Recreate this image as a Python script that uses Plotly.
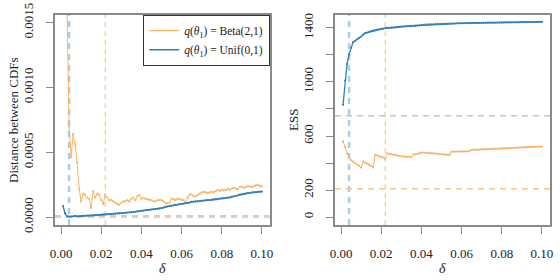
import plotly.graph_objects as go

# ---------------- data ----------------
delta = [round(0.001 * k, 3) for k in range(1, 101)]

# Distance between CDFs, q = Beta(2,1)  (x1e-5)
dist_beta_e5 = [800, 400, 160, 70, 46, 64, 56, 42, 22, 12,
                18, 17, 15, 14, 7, 20, 15, 18, 17, 13,
                10, 17, 15, 13, 13, 12, 11, 10, 9.5, 11,
                12, 12, 13, 12, 14, 15, 13, 16, 17, 14,
                15, 14, 14, 13, 13, 12, 12, 13, 13, 13,
                12, 10.5, 11, 11, 14, 14, 13, 14, 14, 13,
                13, 11, 15, 17, 17.5, 16, 16, 17, 18, 19,
                19.5, 19, 18.5, 19, 19.5, 19, 20, 21, 20, 21,
                20.5, 21, 21.5, 21, 22, 22.5, 22, 21.5, 23, 23.5,
                22.5, 23, 24, 23.5, 23, 24, 24.5, 24.7, 24, 23.5]
# Distance between CDFs, q = Unif(0,1)  (x1e-5)
dist_unif_e5 = [8.5, 2.8, 0.5, 0.2, 0.3, 0.5, 0.8, 0.5, 0.6, 0.7,
                0.8, 0.9, 1.0, 1.0, 1.1, 1.2, 1.3, 1.4, 1.5, 1.7,
                1.8, 2.0, 2.1, 2.2, 2.3, 2.4, 2.6, 2.7, 2.8, 3.0,
                3.1, 3.2, 3.4, 3.5, 3.7, 3.8, 4.0, 4.3, 4.6, 4.8,
                5.0, 5.2, 5.4, 5.5, 5.7, 5.9, 6.1, 6.3, 6.5, 6.8,
                7.2, 7.8, 8.2, 8.5, 8.8, 9.0, 9.3, 9.6, 9.8, 10.0,
                10.3, 10.6, 10.9, 11.2, 11.6, 11.9, 12.0, 12.1, 12.3, 12.5,
                12.7, 12.9, 13.0, 13.1, 13.2, 13.4, 13.6, 13.8, 14.0, 14.2,
                14.4, 14.6, 14.8, 15.0, 15.5, 16.0, 16.4, 16.8, 17.2, 17.6,
                17.9, 18.2, 18.5, 18.7, 18.9, 19.0, 19.2, 19.4, 19.6, 19.6]
dist_beta = [v * 1e-5 for v in dist_beta_e5]
dist_unif = [v * 1e-5 for v in dist_unif_e5]

ess_beta = [560, 520, 470, 440, 420, 410, 400, 390, 380, 366,
            410, 402, 396, 388, 378, 366, 462, 455, 450, 447,
            440, 432, 472, 468, 465, 462, 460, 456, 452, 450,
            448, 447, 446, 448, 444, 462, 466, 468, 472, 476,
            478, 476, 475, 474, 473, 472, 470, 468, 466, 465,
            464, 462, 461, 460, 484, 484, 485, 484, 485, 486,
            485, 486, 486, 490, 497, 498, 499, 498, 500, 501,
            501, 502, 503, 503, 504, 505, 506, 506, 507, 508,
            508, 509, 510, 511, 511, 512, 513, 514, 514, 515,
            516, 517, 517, 518, 519, 520, 520, 521, 522, 522]
ess_unif = [831, 1011, 1133, 1205, 1255, 1295, 1305, 1315, 1325, 1335,
            1350, 1362, 1366, 1372, 1376, 1380, 1384, 1387, 1390, 1393,
            1395, 1398, 1400, 1401, 1402, 1403, 1404, 1406, 1408, 1410,
            1411, 1412, 1413, 1414, 1415, 1416, 1417, 1419, 1420, 1422,
            1423, 1424, 1425, 1426, 1427, 1427, 1428, 1429, 1429, 1430,
            1430, 1431, 1431, 1432, 1432, 1433, 1433, 1434, 1434, 1435,
            1435, 1435, 1436, 1436, 1436, 1437, 1437, 1437, 1438, 1438,
            1438, 1438, 1439, 1439, 1439, 1439, 1440, 1440, 1440, 1440,
            1441, 1441, 1441, 1441, 1442, 1442, 1442, 1442, 1443, 1443,
            1443, 1443, 1444, 1444, 1444, 1444, 1445, 1445, 1445, 1445]

delta_unif_opt = 0.004
delta_beta_opt = 0.022
dist_hline_unif = 0.0
dist_hline_beta = 0.00001
ess_hline_unif = 750
ess_hline_beta = 210

x_ticks = [0.00, 0.02, 0.04, 0.06, 0.08, 0.10]
x_tick_text = ["0.00", "0.02", "0.04", "0.06", "0.08", "0.10"]
dist_ticks = [0.0, 0.0005, 0.0010, 0.0015]
dist_tick_text = ["0.0000", "0.0005", "0.0010", "0.0015"]
ess_ticks = [0, 200, 400, 600, 800, 1000, 1200, 1400]
ess_tick_text = ["0", "200", "", "600", "", "1000", "", "1400"]

legend_beta = "<i>q</i>(<i>θ</i><sub>1</sub>) = Beta(2,1)"
legend_unif = "<i>q</i>(<i>θ</i><sub>1</sub>) = Unif(0,1)"

# ---------------- style ----------------
ORANGE = "#fdb366"
BLUE = "#2f7fbc"
LBLUE = "#a9cfe5"
LORANGE = "#fdc38a"
FRAME = "#8a8a8a"
FONT = "Liberation Serif, DejaVu Serif, serif"
TXT = "#222222"

fig = go.Figure()

def add_series(x, y, color, xa, ya, width):
    fig.add_trace(go.Scatter(x=x, y=y, mode="lines+markers",
                             line=dict(color=color, width=width),
                             marker=dict(color=color, size=2.2),
                             xaxis=xa, yaxis=ya, showlegend=False,
                             cliponaxis=True))

add_series(delta, dist_beta, ORANGE, "x", "y", 1)
add_series(delta, dist_unif, BLUE, "x", "y", 1.3)
add_series(delta, ess_beta, ORANGE, "x2", "y2", 1)
add_series(delta, ess_unif, BLUE, "x2", "y2", 1.3)

# legend-only entries
fig.add_trace(go.Scatter(x=[None], y=[None], mode="lines", name=legend_beta,
                         line=dict(color=ORANGE, width=1.2)))
fig.add_trace(go.Scatter(x=[None], y=[None], mode="lines", name=legend_unif,
                         line=dict(color=BLUE, width=1.4)))

# reference lines
for xr, yr in (("x", "y"), ("x2", "y2")):
    fig.add_shape(type="line", xref=xr, yref=yr + " domain", x0=delta_unif_opt, x1=delta_unif_opt,
                  y0=0, y1=1, line=dict(color=LBLUE, width=2.5, dash="6px,5px"), layer="below")
    fig.add_shape(type="line", xref=xr, yref=yr + " domain", x0=delta_beta_opt, x1=delta_beta_opt,
                  y0=0, y1=1, line=dict(color=LORANGE, width=1.2, dash="5px,4px"), layer="below")

fig.add_shape(type="line", xref="x domain", yref="y", x0=0, x1=1, y0=dist_hline_unif, y1=dist_hline_unif,
              line=dict(color=LBLUE, width=1.5, dash="6px,5px"), layer="below")
fig.add_shape(type="line", xref="x domain", yref="y", x0=0, x1=1, y0=dist_hline_beta, y1=dist_hline_beta,
              line=dict(color=LORANGE, width=1.5, dash="6px,5px"), layer="below")
fig.add_shape(type="line", xref="x2 domain", yref="y2", x0=0, x1=1, y0=ess_hline_unif, y1=ess_hline_unif,
              line=dict(color=LBLUE, width=1.5, dash="6px,5px"), layer="below")
fig.add_shape(type="line", xref="x2 domain", yref="y2", x0=0, x1=1, y0=ess_hline_beta, y1=ess_hline_beta,
              line=dict(color=LORANGE, width=1.5, dash="6px,5px"), layer="below")

W, H = 560, 280
ydom = [(H - 225) / H, (H - 15) / H]

axis_common = dict(showline=True, mirror=True, linecolor=FRAME, linewidth=2,
                   ticks="outside", ticklen=7, tickwidth=1.2, tickcolor=FRAME,
                   showgrid=False, zeroline=False, automargin=False,
                   tickfont=dict(family=FONT, size=13, color=TXT))

fig.update_layout(
    width=W, height=H,
    margin=dict(l=0, r=0, t=0, b=0),
    paper_bgcolor="white", plot_bgcolor="white",
    font=dict(family=FONT, size=13, color=TXT),
    hovermode=False,
    xaxis=dict(domain=[55 / W, 270 / W], range=[-0.003, 0.104], anchor="y",
               tickvals=x_ticks, ticktext=x_tick_text, ticklabelstandoff=8, **axis_common),
    yaxis=dict(domain=ydom, range=[-0.0000617, 0.001559], anchor="x",
               tickvals=dist_ticks, ticktext=dist_tick_text, tickangle=-90,
               ticklabelstandoff=8, **axis_common),
    xaxis2=dict(domain=[335 / W, 550 / W], range=[-0.003, 0.104], anchor="y2",
                tickvals=x_ticks, ticktext=x_tick_text, ticklabelstandoff=8, **axis_common),
    yaxis2=dict(domain=ydom, range=[-59, 1496], anchor="x2",
                tickvals=ess_ticks, ticktext=ess_tick_text, tickangle=-90,
                ticklabelstandoff=8, **axis_common),
    legend=dict(x=270 / W, xanchor="right", y=1 - 15 / H, yanchor="top",
                bgcolor="white", bordercolor="#333333", borderwidth=1.2,
                font=dict(family=FONT, size=11.5, color=TXT),
                itemwidth=30, tracegroupgap=0),
    annotations=[
        dict(text="Distance between CDFs", x=13 / W, y=1 - 120 / H, xref="paper", yref="paper",
             xanchor="center", yanchor="middle",
             textangle=-90, showarrow=False, font=dict(family=FONT, size=13, color=TXT)),
        dict(text="ESS", x=293 / W, y=1 - 120 / H, xref="paper", yref="paper",
             xanchor="center", yanchor="middle",
             textangle=-90, showarrow=False, font=dict(family=FONT, size=13, color=TXT)),
        dict(text="<i>δ</i>", x=162 / W, y=1 - 268 / H, xref="paper", yref="paper",
             xanchor="center", yanchor="middle",
             showarrow=False, font=dict(family=FONT, size=14, color=TXT)),
        dict(text="<i>δ</i>", x=442 / W, y=1 - 268 / H, xref="paper", yref="paper",
             xanchor="center", yanchor="middle",
             showarrow=False, font=dict(family=FONT, size=14, color=TXT)),
    ],
)

fig.write_html("out.html", config={"displayModeBar": False},
               post_script="document.body.style.margin='0';document.body.style.padding='0';")
